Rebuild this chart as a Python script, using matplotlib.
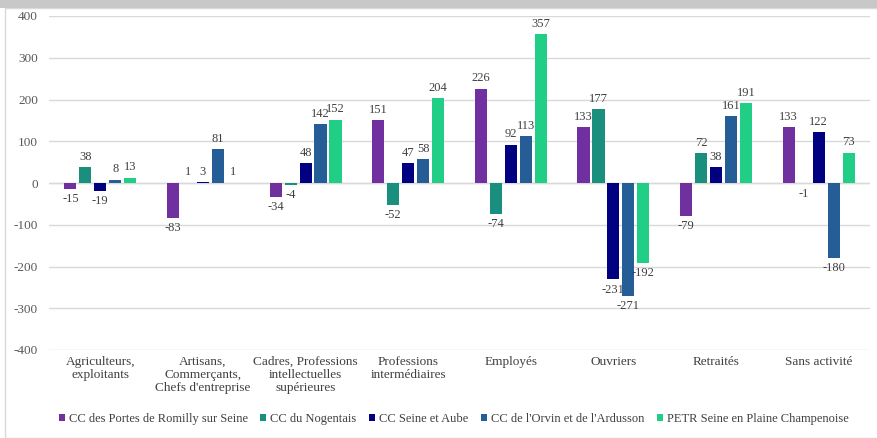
import matplotlib
matplotlib.use("Agg")
import matplotlib.pyplot as plt
import numpy as np
from matplotlib.patches import Rectangle

categories = ["Agriculteurs,\nexploitants", "Artisans,\nCommerçants,\nChefs d'entreprise",
              "Cadres, Professions\nintellectuelles\nsupérieures", "Professions\nintermédiaires",
              "Employés", "Ouvriers", "Retraités", "Sans activité"]
series_names = ["CC des Portes de Romilly sur Seine", "CC du Nogentais", "CC Seine et Aube",
                "CC de l'Orvin et de l'Ardusson", "PETR Seine en Plaine Champenoise"]
romilly = [-15, -83, -34, 151, 226, 133, -79, 133]
nogentais = [38, 1, -4, -52, -74, 177, 72, -1]
seine_aube = [-19, 3, 48, 47, 92, -231, 38, 122]
orvin = [8, 81, 142, 58, 113, -271, 161, -180]
petr = [13, 1, 152, 204, 357, -192, 191, 73]
colors = ["#7030A0", "#1B8F7E", "#000080", "#255E96", "#20CF85"]
yticks = [-400, -300, -200, -100, 0, 100, 200, 300, 400]

data = [romilly, nogentais, seine_aube, orvin, petr]

plt.rcParams['font.family'] = ['Liberation Serif', 'DejaVu Serif']
fig = plt.figure(figsize=(8.78, 4.38), dpi=100)
ax = fig.add_axes([49/878, 1-350/438, (870-49)/878, (350-16)/438])

x = np.arange(len(categories))
bw = 0.118
step = 0.146
for i, (vals, c) in enumerate(zip(data, colors)):
    pos = x + (i - 2) * step
    ax.bar(pos, vals, width=bw, color=c, label=series_names[i], zorder=3)
    for p, v in zip(pos, vals):
        if v >= 0:
            ax.annotate(str(v), (p, v), xytext=(0, 3), textcoords="offset points",
                        ha="center", va="bottom", fontsize=9, color="#404040")
        else:
            ax.annotate(str(v), (p, v), xytext=(0, -3), textcoords="offset points",
                        ha="center", va="top", fontsize=9, color="#404040")

ax.set_xlim(-0.5, len(categories) - 0.5)
ax.set_ylim(-400, 400)
ax.set_yticks(yticks)
ax.set_yticklabels([str(t) for t in yticks], fontsize=9.5, color="#595959")
ax.set_xticks(x)
ax.set_xticklabels(categories, fontsize=9.5, color="#404040", linespacing=1.15)
ax.tick_params(axis='both', length=0)
ax.tick_params(axis='y', pad=8)
ax.tick_params(axis='x', pad=4)
ax.grid(axis='y', color="#D9D9D9", linewidth=1, zorder=0)
ax.axhline(0, color="#D9D9D9", linewidth=1, zorder=1)
for s in ax.spines.values():
    s.set_visible(False)

leg = fig.legend(loc="center", bbox_to_anchor=(0.5165, 1-419/438), ncol=5, frameon=False,
                 fontsize=9, handlelength=0.5, handleheight=0.5, handletextpad=0.3,
                 columnspacing=1.0, labelcolor="#404040")

# outer frame
fig.patches.append(Rectangle((5/878, 0), 1, 1-8/438, transform=fig.transFigure,
                             fill=False, edgecolor="#D9D9D9", linewidth=1))
fig.patches.append(Rectangle((0, 1-8/438), 1, 8/438, transform=fig.transFigure,
                             facecolor="#C8C8C8", edgecolor="none"))

fig.savefig("out.png", dpi=100)
